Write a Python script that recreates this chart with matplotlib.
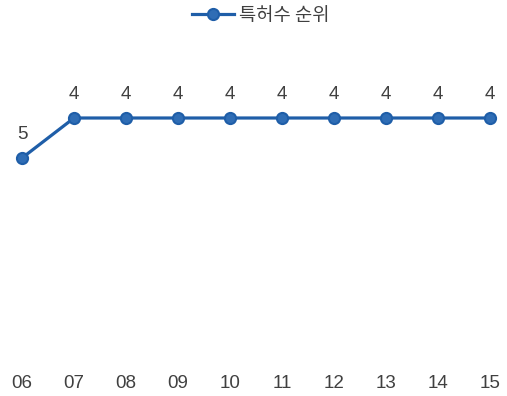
import matplotlib
matplotlib.use('Agg')
import matplotlib.pyplot as plt

plt.rcParams['font.family'] = ['Liberation Sans', 'Noto Sans CJK KR', 'DejaVu Sans']

years = ['06', '07', '08', '09', '10', '11', '12', '13', '14', '15']
ranks = [5, 4, 4, 4, 4, 4, 4, 4, 4, 4]
series_name = '특허수 순위'

text_color = '#404040'
line_color = '#1f5ea8'

fig = plt.figure(figsize=(5.07, 3.96), dpi=100)
ax = fig.add_axes([0, 31 / 396, 1, 325 / 396])

xs = list(range(len(years)))
ax.plot(xs, ranks, color=line_color, linewidth=2.3, marker='o', markersize=8,
        markerfacecolor='#2f6db5', markeredgecolor='#1f5ea8', markeredgewidth=1.5,
        label=series_name)

for x, v in zip(xs, ranks):
    ax.annotate(str(v), (x, v), xytext=(0, 17), textcoords='offset points',
                ha='center', va='center', fontsize=13.5, color=text_color)

ax.set_xlim(-22 / 52, 9 + 17 / 52)
ax.set_ylim(4 + 247 / 40, 4 - 78 / 40)
ax.set_xticks(xs)
ax.set_xticklabels(years, fontsize=13.5, color=text_color)
ax.tick_params(axis='x', length=0, pad=7)
ax.set_yticks([])
for s in ax.spines.values():
    s.set_visible(False)

leg = fig.legend(loc='upper center', bbox_to_anchor=(0.515, 1.03), frameon=False,
                 fontsize=13.5, labelcolor=text_color, handlelength=2.2,
                 handletextpad=0.3)
for t in leg.get_texts():
    t.set_family(['Noto Sans CJK KR', 'DejaVu Sans'])
    t.set_fontweight('light')

fig.savefig('out.png', dpi=100)
